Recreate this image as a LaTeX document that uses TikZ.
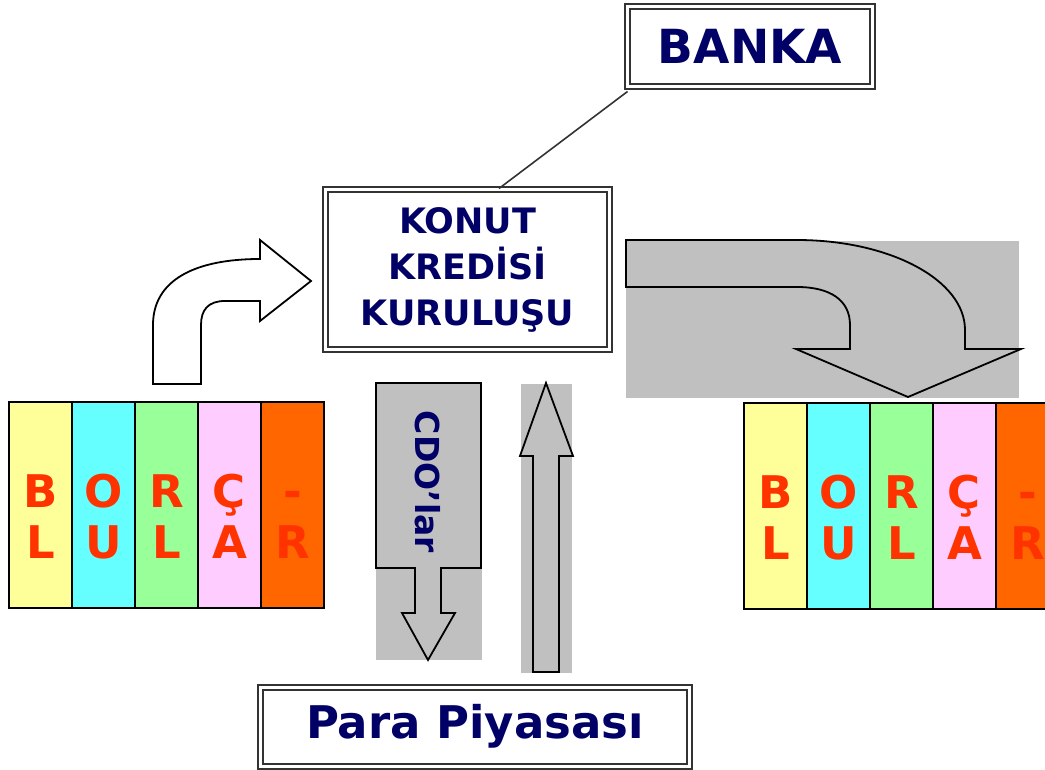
\documentclass[tikz,border=0pt]{standalone}
\usepackage{fontspec}
\setmainfont{DejaVu Sans}
\usetikzlibrary{calc}
\definecolor{navy}{HTML}{000066}
\definecolor{letterred}{HTML}{FF3300}
\definecolor{frame}{HTML}{333333}
\definecolor{greybg}{HTML}{C0C0C0}
\definecolor{cyel}{HTML}{FFFF99}
\definecolor{ccya}{HTML}{66FFFF}
\definecolor{cgrn}{HTML}{99FF99}
\definecolor{cpnk}{HTML}{FFCCFF}
\definecolor{corg}{HTML}{FF6600}
\newcommand{\fs}[2]{\fontsize{#1}{#2}\selectfont\bfseries}
\tikzset{
  dbox/.style={rectangle, draw=frame, double=white, line width=2pt,
    double distance=3pt, fill=white, inner sep=0pt, text=navy, align=center},
  blockarrow/.style={draw=black, line width=1.8pt, line join=miter},
  stripe/.style={rectangle, draw=black, line width=2pt, minimum width=63pt,
    minimum height=206pt, inner sep=0pt},
  letter/.style={anchor=base, text=letterred, font=\fs{45}{50}, inner sep=0pt},
}
\begin{document}
\begin{tikzpicture}[x=1pt, y=-1pt]
\useasboundingbox (0,0) rectangle (1045,770);
\clip (0,0) rectangle (1045,770);

% boxes
\node[dbox, minimum width=245pt, minimum height=80pt, font=\fs{47}{50}]
  (banka) at (750,46.5) {BANKA};
\node[dbox, minimum width=284pt, minimum height=160pt, font=\fs{35}{46}]
  (konut) at (467.5,269.5) {KONUT\\KREDİSİ\\KURULUŞU};
\node[dbox, minimum width=429pt, minimum height=78.5pt, font=\fs{45}{50}]
  (para) at (475,726.75) {Para Piyasası};

% connector between bank and the mortgage firm
\coordinate (kn) at ($(konut.north west)!0.61!(konut.north east)$);
\draw[frame, line width=1.6pt] ($(banka.south west)+(1,4)$) -- (kn);

% curved arrow into the mortgage firm
\draw[blockarrow, fill=white]
  (153,384) -- (153,325) .. controls (153,280) and (195,259) .. (260,259)
  -- (260,240) -- (311,281) -- (260,321) -- (260,301) -- (225,301)
  .. controls (208,301) and (201,310) .. (201,325) -- (201,384) -- cycle;

% curved arrow out to the investors
\fill[greybg] (626,241) rectangle (1019,398);
\draw[blockarrow, fill=greybg]
  (626,240) -- (797,240) .. controls (890,240) and (965,280) .. (965,330)
  -- (965,349) -- (1021,349) -- (908,397) -- (796,349) -- (850,349)
  -- (850,325) .. controls (850,300) and (830,287) .. (797,287)
  -- (626,287) -- cycle;

% CDO arrow down to the money market
\fill[greybg] (376,383) rectangle (482,660);
\draw[blockarrow, fill=greybg]
  (376,383) -- (481,383) -- (481,568) -- (441,568) -- (441,613) -- (455,613)
  -- (428,660) -- (402,613) -- (415,613) -- (415,568) -- (376,568) -- cycle;
\node[rotate=-90, text=navy, font=\fs{33}{36}, inner sep=0pt] (cdo) at (428,482) {CDO’lar};

% funding arrow up from the money market
\fill[greybg] (521,384) rectangle (572,673);
\draw[blockarrow, fill=greybg]
  (546,383) -- (573,456) -- (559,456) -- (559,672) -- (533,672)
  -- (533,456) -- (520,456) -- cycle;

% borrower stripes, left and right
\foreach \side/\x/\y in {L/8/401, R/743/402}{
  \foreach \i/\col/\top/\bot in {0/cyel/B/L, 1/ccya/O/U, 2/cgrn/R/L, 3/cpnk/Ç/A, 4/corg/-/R}{
    \node[stripe, fill=\col, anchor=north west] (s\side\i) at ({\x+63*\i},\y) {};
    \node[letter] (a\side\i) at ($(s\side\i.north)+(0,106)$) {\top};
    \node[letter] (b\side\i) at ($(s\side\i.north)+(0,157)$) {\bot};
  }
}
\end{tikzpicture}
\end{document}
